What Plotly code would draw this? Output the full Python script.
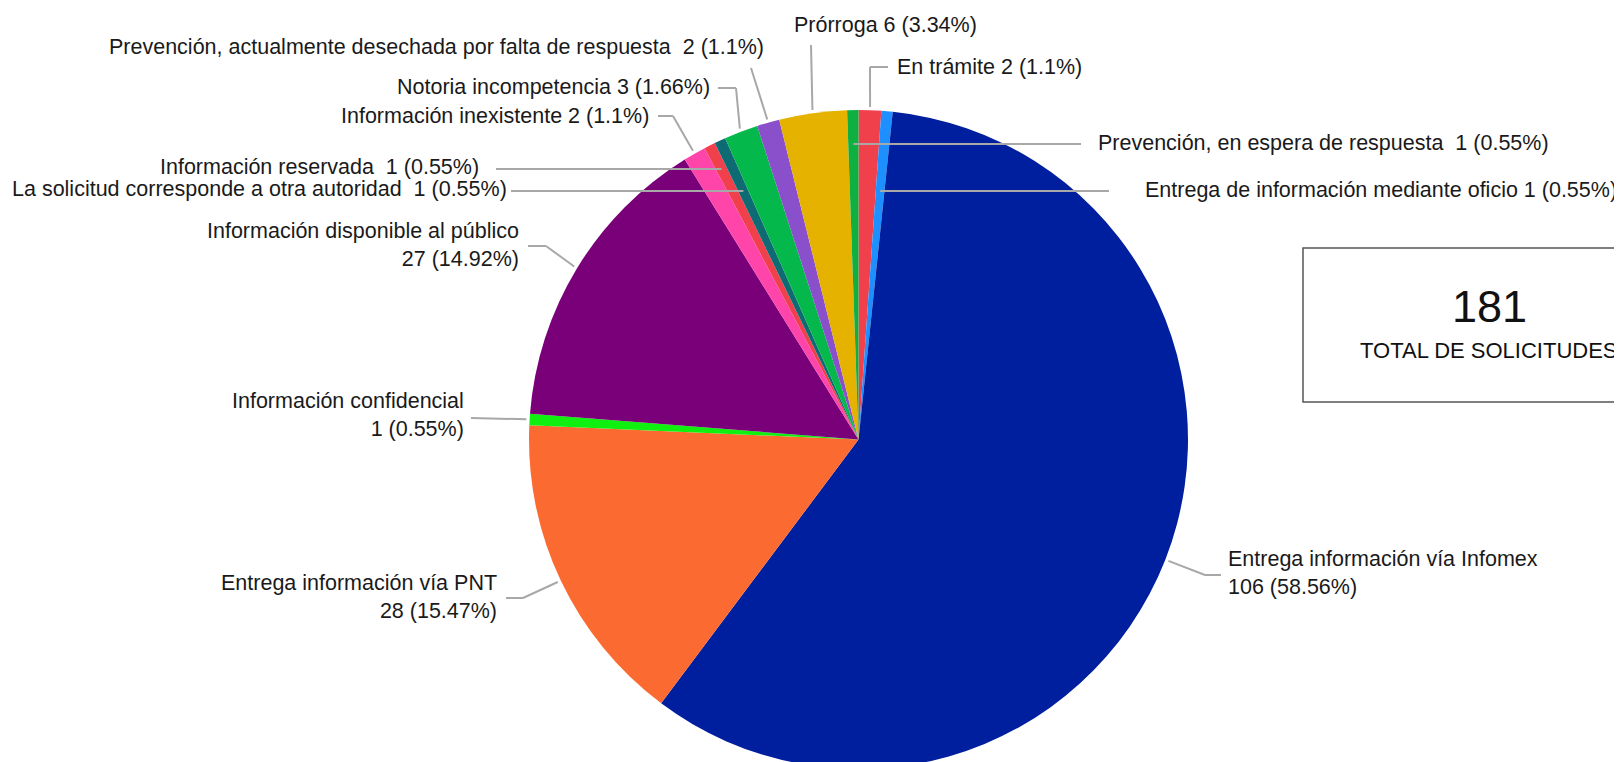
import math
import plotly.graph_objects as go

# ---- data (clockwise from 12 o'clock) ----
categorias = [
    "En trámite",
    "Entrega de información mediante oficio",
    "Entrega información vía Infomex",
    "Entrega información vía PNT",
    "Información confidencial",
    "Información disponible al público",
    "Información inexistente",
    "Información reservada",
    "La solicitud corresponde a otra autoridad",
    "Notoria incompetencia",
    "Prevención, actualmente desechada por falta de respuesta",
    "Prórroga",
    "Prevención, en espera de respuesta",
]
valores = [2, 1, 106, 28, 1, 27, 2, 1, 1, 3, 2, 6, 1]
porcentajes = ["1.1%", "0.55%", "58.56%", "15.47%", "0.55%", "14.92%", "1.1%",
               "0.55%", "0.55%", "1.66%", "1.1%", "3.34%", "0.55%"]
etiquetas = [
    "En trámite 2 (1.1%)",
    "Entrega de información mediante oficio 1 (0.55%)",
    "Entrega información vía Infomex<br>106 (58.56%)",
    "Entrega información vía PNT<br>28 (15.47%)",
    "Información confidencial<br>1 (0.55%)",
    "Información disponible al público<br>27 (14.92%)",
    "Información inexistente 2 (1.1%)",
    "Información reservada  1 (0.55%)",
    "La solicitud corresponde a otra autoridad  1 (0.55%)",
    "Notoria incompetencia 3 (1.66%)",
    "Prevención, actualmente desechada por falta de respuesta  2 (1.1%)",
    "Prórroga 6 (3.34%)",
    "Prevención, en espera de respuesta  1 (0.55%)",
]
total = 181
total_texto = "TOTAL DE SOLICITUDES"

# ---- styles ----
colores = ["#F0404C", "#1E8FFF", "#001F9E", "#FB6B31", "#10F010", "#7A007A",
           "#FF45AA", "#F0404C", "#0E6B73", "#05B84C", "#8A4FCB", "#E5B200", "#10B040"]

W, H = 1622, 762
CX, CY, R = 850.5, 431.5, 329.5
FONT = "Liberation Sans, Arial, sans-serif"

# label layout: (text x, text y, anchor, leader start pt, elbow pt or None, mode)
# mode 'h' = horizontal leader ending on slice mid-ray at label height
layout_lbl = [
    (887, 59, "left", (880, 59), (862, 59), "v"),
    (1135, 182, "left", (1101, 183), None, "h"),
    (1218, 565, "left", (1213, 567), (1197, 567), "r"),
    (491, 589, "right", (498, 590), (515, 590), "r"),
    (458, 407, "right", (463, 410), None, "r"),
    (513, 237, "right", (520, 238), (538, 238), "r"),
    (643, 108, "right", (650, 108), (665, 108), "r"),
    (473, 159, "right", (488, 161), None, "h"),
    (501, 181, "right", (503, 183), None, "h"),
    (704, 79, "right", (710, 80), (728, 80), "r"),
    (758, 39, "right", (743, 60), None, "r"),
    (877, 17, "center", (803, 37), None, "r"),
    (1088, 135, "left", (1073, 136), None, "h"),
]

def px(x):
    return x / W

def py(y):
    return 1 - y / H

fig = go.Figure(go.Pie(
    labels=categorias, values=valores, sort=False, direction="clockwise",
    rotation=0, marker=dict(colors=colores, line=dict(width=0)),
    textinfo="none", hoverinfo="label+value+percent", showlegend=False,
    domain=dict(x=[px(CX - R), px(CX + R)], y=[py(CY + R), py(CY - R)]),
))

tot = sum(valores)
cum = 0
shapes = []
annotations = []
for i, v in enumerate(valores):
    mid = (cum + v / 2) / tot * 2 * math.pi
    cum += v
    tx, ty, anc, start, elbow, mode = layout_lbl[i]
    if mode == "h":
        r = (CY - start[1]) / math.cos(mid)
        ax, ay = CX + r * math.sin(mid), start[1]
    else:
        r = R * 1.01
        ax, ay = CX + r * math.sin(mid), CY - r * math.cos(mid)
    pts = [start] + ([elbow] if elbow else []) + [(ax, ay)]
    for (x0, y0), (x1, y1) in zip(pts[:-1], pts[1:]):
        shapes.append(dict(type="line", xref="paper", yref="paper",
                           x0=px(x0), y0=py(y0), x1=px(x1), y1=py(y1),
                           line=dict(color="#A8A8A8", width=2)))
    annotations.append(dict(
        text=etiquetas[i], xref="paper", yref="paper", x=px(tx), y=py(ty),
        xanchor=anc, yanchor="middle", showarrow=False,
        align="right" if anc == "right" else "left",
        font=dict(family=FONT, size=21.5, color="#1a1a1a"),
    ))

# total box
shapes.append(dict(type="rect", xref="paper", yref="paper",
                   x0=px(1295), x1=px(1640), y0=py(394), y1=py(240),
                   line=dict(color="#555555", width=1.5)))
annotations.append(dict(text=str(total), xref="paper", yref="paper",
                        x=px(1481), y=py(298), xanchor="center", yanchor="middle",
                        showarrow=False,
                        font=dict(family=FONT, size=45, color="#111111")))
annotations.append(dict(text=total_texto, xref="paper", yref="paper",
                        x=px(1481), y=py(342), xanchor="center", yanchor="middle",
                        showarrow=False,
                        font=dict(family=FONT, size=22, color="#111111")))

fig.update_layout(
    width=W, height=H, margin=dict(l=0, r=0, t=0, b=0),
    paper_bgcolor="white", plot_bgcolor="white",
    shapes=shapes, annotations=annotations,
)
fig.write_html("out.html")
